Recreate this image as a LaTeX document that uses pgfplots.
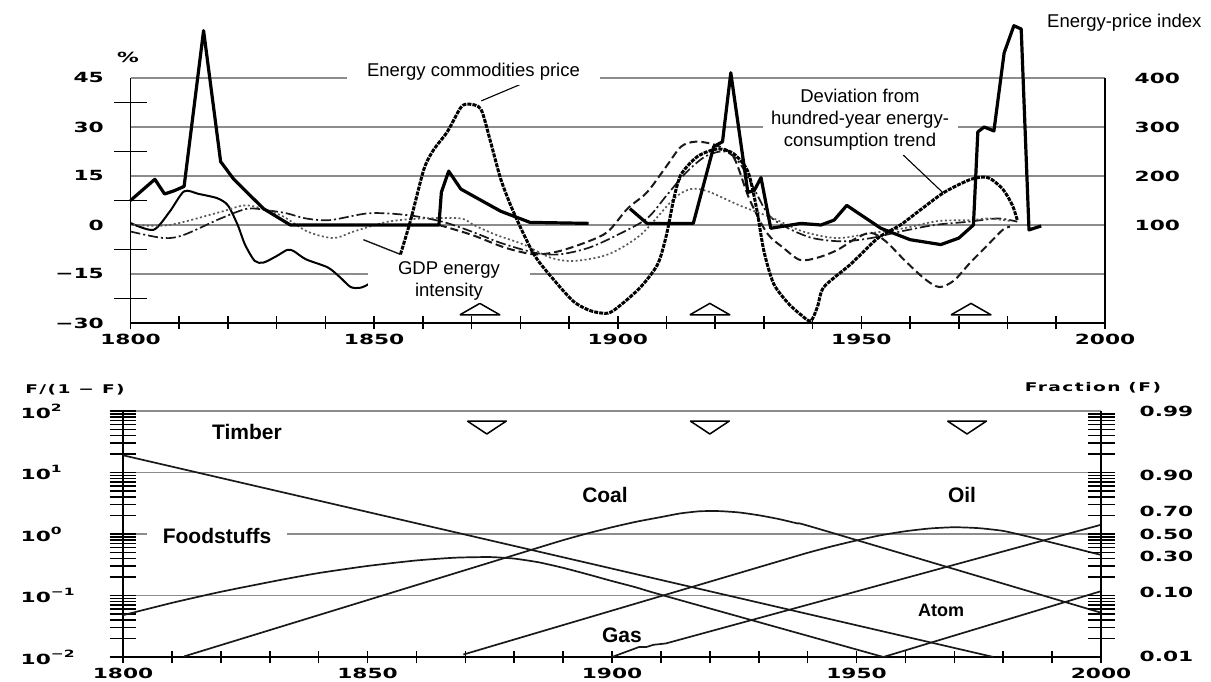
\documentclass[border=0pt]{standalone}
\usepackage{pgfplots}
\pgfplotsset{compat=1.18}
\usepackage{fontspec}
\setmainfont{Liberation Sans}
\newfontfamily\tickfamily{DejaVu Sans}[FakeStretch=1.55]
\newfontfamily\titlefamily{DejaVu Sans}[FakeStretch=1.55, LetterSpace=12]
\newcommand\tickfont{\tickfamily\bfseries\fontsize{14}{14}\selectfont}
\newcommand\smalltick{\titlefamily\bfseries\fontsize{12}{12}\selectfont}
\newcommand\ex[1]{\raisebox{0.5em}{\fontsize{10}{10}\selectfont #1}}
\newcommand\annot{\fontsize{18.5}{22}\selectfont}
\newcommand\fuel{\bfseries\fontsize{21}{21}\selectfont}

\pgfplotsset{
  panel/.style={
    scale only axis, clip=false,
    axis line style={line width=1.8pt, black, -},
    tick style={line width=1.6pt, black},
    tick align=center,
    major tick length=13pt,
    major grid style={line width=1.8pt, black!45},
    tick label style={font=\tickfont, inner sep=0pt},
    xmin=1800, xmax=2000,
    xtick={1800,1810,...,2000},
    xticklabels={1800,,,,,1850,,,,,1900,,,,,1950,,,,,2000},
    xticklabel style={anchor=north, yshift=-4.5pt},
  },
  curve/.style={line width=1.7pt, black!90, line join=round},
}

\begin{document}
\begin{tikzpicture}
\path[use as bounding box] (0pt,0pt) rectangle (1211pt,682pt);

% ---------- upper panel: percentages ----------
\begin{axis}[panel,
  at={(130.5pt,359pt)}, anchor=south west, width=974.5pt, height=245pt,
  ymin=-30, ymax=45,
  axis x line*=bottom, axis y line*=left,
  ytick={-30,-15,0,15,30,45}, yticklabels={−30,−15,0,15,30,45},
  ymajorgrids,
  every major y tick/.append style={opacity=0},
  minor ytick={-22.5,-7.5,7.5,22.5,37.5}, minor tick length=32pt,
  yticklabel style={anchor=east, xshift=-20pt},
]
% GDP energy intensity (early wiggle)
\addplot[curve, black, line width=2pt, smooth, tension=0.45] coordinates {
 (1800,0.6) (1804.7,-1.5) (1808,4) (1811,10.3) (1814,9.5) (1817.8,8.2) (1820,6)
 (1822,0) (1823.5,-6) (1825.5,-11) (1827.3,-11.5) (1830,-9.5) (1832.2,-7.6)
 (1833.5,-8) (1836,-10.5) (1840.5,-13) (1843,-16) (1845.2,-19) (1847.2,-19.2)
 (1849,-18) (1852,-15)};
\addplot[curve, line width=1.4pt] coordinates {(1847.8,-4.5) (1855.4,-9)};
% dash-dot series
\addplot[curve, line width=1.7pt, smooth, tension=0.5,
  dash pattern=on 10pt off 3pt on 2pt off 3pt] coordinates {
 (1800,-2) (1806.8,-4) (1811,-3) (1818.5,2) (1824,5) (1828,4.5) (1832,3.6)
 (1836,2) (1841,1.5) (1849,3.6) (1857,3) (1864,1) (1870,-2) (1876,-5.5)
 (1883,-8.5) (1888,-9) (1894,-7) (1900,-3) (1906,2) (1910,9) (1914,16)
 (1918,21) (1922,22.5) (1925,19) (1928,11) (1931,3) (1935,-1) (1940,-4)
 (1946,-5) (1952,-4) (1958,-2) (1965,0) (1972,1) (1978,2) (1982,1)};
% fine dotted series
\addplot[curve, line width=1.7pt, black!65, smooth, tension=0.5,
  dash pattern=on 2pt off 2.5pt] coordinates {
 (1800.6,0) (1808,0) (1818.5,4) (1824,6) (1830.8,3) (1836.3,-2) (1841.7,-4)
 (1845.8,-2) (1852.8,1) (1860,2) (1867.8,2) (1870.4,0) (1875,-3) (1880.7,-6)
 (1886.2,-10) (1891,-11) (1898,-9) (1904.7,-3) (1911.5,8) (1915,11)
 (1918.5,10.3) (1925,6) (1932,2) (1938,-2) (1945,-4) (1952,-2.5)
 (1958.7,-1) (1965.7,1.2) (1972.5,1.5) (1976,2) (1980.7,1.2)};
% long-dash series
\addplot[curve, line width=2pt, smooth, tension=0.5,
  dash pattern=on 8pt off 4pt] coordinates {
 (1863.3,0) (1870,-3) (1877,-7) (1883,-9) (1888,-8) (1894,-5) (1898,-2)
 (1902,5) (1906,10) (1910,18) (1913,24) (1916,25.5) (1920,24.5) (1923.7,21)
 (1927,8) (1930.6,-2.4) (1934,-7) (1937.4,-10.7) (1941,-10) (1945,-7.7)
 (1949,-4) (1952,-2.4) (1955,-5) (1959,-11) (1963,-16.5) (1966,-19)
 (1969,-17) (1972.3,-11.6) (1976,-6) (1979,-1.5) (1980.5,-0.5)};
% energy commodities price
\addplot[curve, line width=3pt, black, smooth, tension=0.45,
  dash pattern=on 4pt off 1.1pt] coordinates {
 (1855.4,-9) (1857.5,1.5) (1860.2,17) (1862.2,23) (1865,28.5) (1867.8,36)
 (1869.4,37) (1871.9,35.5) (1873.8,26) (1876,14) (1878.6,4) (1882.8,-9)
 (1887,-17) (1891,-23.5) (1894.5,-26.3) (1898,-27) (1900.6,-24.5)
 (1904.7,-19) (1908.2,-12) (1910,-3) (1911.5,8) (1913,15.5) (1916.4,21)
 (1920.5,23.3) (1923.8,21.8) (1926.7,16.4) (1928.5,5) (1930,-8) (1932,-18)
 (1935,-24) (1937.6,-27.5) (1939.6,-29.4) (1941,-25) (1942.3,-19)
 (1947.8,-12) (1953.4,-4) (1958,0) (1962,4.5) (1967,10) (1972.5,14)
 (1976,14.5) (1979,11) (1981,6) (1982,1.5)};
% turning-point markers
\addplot[line width=1.5pt, line join=round] coordinates
 {(1867.6,-27.5) (1871.7,-24) (1875.8,-27.5) (1867.6,-27.5)};
\addplot[line width=1.5pt, line join=round] coordinates
 {(1914.8,-27.5) (1918.9,-24) (1923.0,-27.5) (1914.8,-27.5)};
\addplot[line width=1.5pt, line join=round] coordinates
 {(1968.4,-27.5) (1972.5,-24) (1976.6,-27.5) (1968.4,-27.5)};
% leader lines
\draw[line width=1.1pt] (axis cs:1880.6,43.4) -- (axis cs:1872,38);
\draw[line width=1.1pt] (axis cs:1958.6,21.4) -- (axis cs:1966.8,9.8);
\end{axis}

% ---------- upper panel: energy-price index (right scale) ----------
\begin{axis}[panel,
  at={(130.5pt,359pt)}, anchor=south west, width=974.5pt, height=245pt,
  ymin=-100, ymax=400,
  axis x line=none, axis y line*=right,
  ytick={100,200,300,400}, yticklabels={100,200,300,400},
  every major y tick/.append style={opacity=0},
  yticklabel style={anchor=west, xshift=23pt},
]
\addplot[line width=3.2pt, black, line join=round] coordinates {
 (1800,150) (1805,193.3) (1807,163.3) (1809,170) (1811,178.7) (1815,496.7)
 (1818.5,229.3) (1821.2,193.3) (1827.3,133.3) (1832.8,100) (1863.3,100)
 (1863.8,166.7) (1865.3,210) (1867.8,173.3) (1872,150) (1876,128)
 (1882,105.3) (1894,103.3)};
\addplot[line width=3.2pt, black, line join=round] coordinates {
 (1902.5,133.3) (1906,103.3) (1915.5,103.3) (1919.7,260) (1921.5,270)
 (1923.2,410.7) (1926.7,166.7) (1928,170) (1929.4,196.7) (1931.4,93.3)
 (1937.6,103.3) (1941.7,100) (1944.4,110) (1947,140) (1954,93.3) (1960,70)
 (1966.3,60) (1970,73.3) (1973,100) (1973.9,290) (1975.2,300) (1977.2,292)
 (1979.3,451.3) (1981.3,506.7) (1982.8,500) (1984.4,90) (1986.9,98)};
\end{axis}

% ---------- lower panel: substitution, F/(1-F) ----------
\begin{axis}[panel,
  at={(123pt,25pt)}, anchor=south west, width=978pt, height=246pt,
  ymode=log, ymin=0.01, ymax=100,
  axis x line*=bottom, axis y line*=left,
  ytick={0.01,0.1,1,10,100},
  yticklabels={10\ex{−2},10\ex{−1},10\ex{0},10\ex{1},10\ex{2}},
  ymajorgrids,
  minor ytick={0.02,0.03,0.04,0.05,0.06,0.07,0.08,0.09,
               0.2,0.3,0.4,0.5,0.6,0.7,0.8,0.9,
               2,3,4,5,6,7,8,9,20,30,40,50,60,70,80,90},
  minor tick length=27pt,
  ytick style={/pgfplots/major tick length=27pt},
  yticklabel style={anchor=west, xshift=-96pt},
]
% Timber
\addplot[curve] coordinates {(1800,19.05) (1978,0.01)};
% Foodstuffs
\addplot[curve, smooth, tension=0.35] coordinates {
 (1800,0.04786) (1810,0.07586) (1820,0.1148) (1832,0.1778) (1840,0.2317)
 (1850,0.3020) (1860,0.3715) (1868,0.4121) (1875,0.4217) (1880,0.3981)
 (1885,0.3467) (1890,0.2818) (1895,0.2213) (1900,0.1718) (1905,0.1349)
 (1911,0.0977) (1955.5,0.01)};
% Coal
\addplot[curve, smooth, tension=0.35] coordinates {
 (1812.5,0.01023) (1880,0.4539) (1885,0.6012) (1890,0.7943) (1895,1.0233)
 (1900,1.2882) (1905,1.5849) (1910,1.8836) (1914,2.1627) (1918,2.3442)
 (1922,2.3550) (1926,2.2387) (1930,2.0184) (1934,1.7579) (1938,1.4791)
 (1942,1.2303) (2000,0.05248)};
% Oil
\addplot[curve, smooth, tension=0.35] coordinates {
 (1869.6,0.01096) (1935,0.3776) (1940,0.4943) (1945,0.6310) (1950,0.7852)
 (1955,0.9550) (1960,1.1092) (1965,1.2303) (1970,1.2882) (1975,1.2445)
 (1980,1.1220) (1985,0.9120) (1988,0.7943) (1992,0.6607) (1996,0.5495)
 (2000,0.4571)};
% Gas
\addplot[curve] coordinates {
 (1900,0.01) (1905.5,0.0145) (1907,0.0145) (1908.5,0.0158) (1911,0.0166)
 (2000,1.413)};
% Atom
\addplot[curve] coordinates {(1955.5,0.01) (2000,0.1175)};
% turning-point markers
\addplot[line width=1.5pt, line join=round] coordinates
 {(1870.4,68.7) (1874.4,42.3) (1878.4,68.7) (1870.4,68.7)};
\addplot[line width=1.5pt, line join=round] coordinates
 {(1916,68.7) (1920,42.3) (1924,68.7) (1916,68.7)};
\addplot[line width=1.5pt, line join=round] coordinates
 {(1968.6,68.7) (1972.6,42.3) (1976.6,68.7) (1968.6,68.7)};
\end{axis}

% ---------- lower panel: fraction scale (right) ----------
\begin{axis}[panel,
  at={(123pt,25pt)}, anchor=south west, width=978pt, height=246pt,
  ymode=log, ymin=0.01, ymax=100,
  axis x line=none, axis y line*=right,
  ytick={0.010101,0.11111,0.42857,1,2.3333,9,99},
  yticklabels={0.01,0.10,0.30,0.50,0.70,0.90,0.99},
  every major y tick/.append style={opacity=0},
  minor ytick={0.02,0.03,0.04,0.05,0.06,0.07,0.08,0.09,0.1,
               0.2,0.3,0.4,0.5,0.6,0.7,0.8,0.9,1,
               2,3,4,5,6,7,8,9,10,20,30,40,50,60,70,80,90},
  minor tick length=27pt,
  yticklabel style={anchor=west, xshift=32pt},
]
\end{axis}

% ---------- annotations ----------
\node[font=\annot, fill=white, minimum width=253pt, minimum height=26pt, inner sep=0pt]
  at (473.5pt,610pt) {Energy commodities price};
\node[font=\annot, anchor=west, inner sep=0pt] at (1047pt,659pt) {Energy-price index};
\node[font=\annot, fill=white, align=center, minimum width=195pt, inner xsep=0pt, inner ysep=3pt]
  at (860pt,562pt) {Deviation from\\hundred-year energy-\\consumption trend};
\node[font=\annot, fill=white, align=center, minimum width=162pt, minimum height=45pt, inner sep=0pt]
  at (449pt,401pt) {GDP energy\\intensity};
\node[font=\tickfont, inner sep=0pt] at (128pt,625pt) {\%};

\node[font=\fuel] at (247pt,250pt) {Timber};
\node[font=\fuel, fill=white, minimum width=140pt, inner ysep=2pt] at (217pt,146pt) {Foodstuffs};
\node[font=\fuel] at (605pt,187pt) {Coal};
\node[font=\fuel] at (962pt,187pt) {Oil};
\node[font=\fuel] at (622pt,47pt) {Gas};
\node[font=\bfseries\fontsize{18}{18}\selectfont] at (941pt,72pt) {Atom};
\node[font=\smalltick, inner sep=0pt] at (75pt,292pt) {F/(1 − F)};
\node[font=\smalltick, inner sep=0pt] at (1093pt,294pt) {Fraction (F)};
\end{tikzpicture}
\end{document}
